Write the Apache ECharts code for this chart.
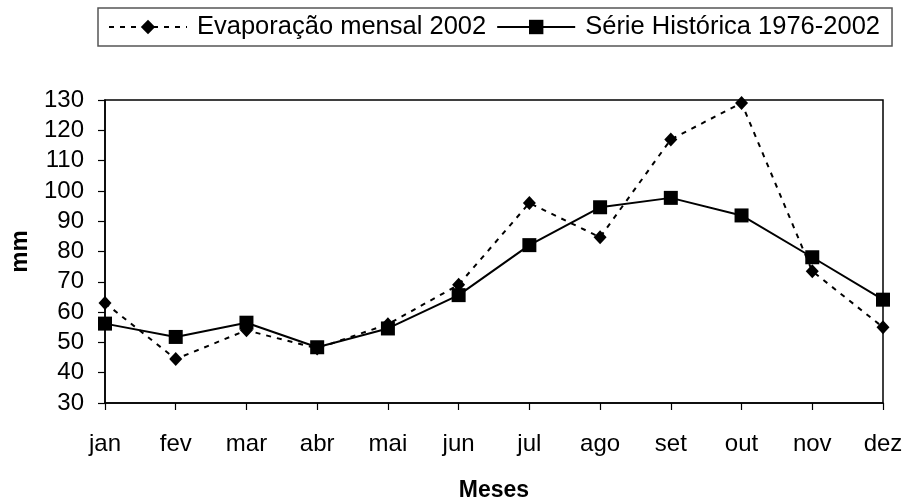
<!DOCTYPE html>
<html><head><meta charset="utf-8">
<script src="https://cdn.jsdelivr.net/npm/echarts@6/dist/echarts.min.js"></script>
<style>html,body{margin:0;padding:0;background:#fff}#c{width:907px;height:498px}</style>
</head><body><div id="c"></div>
<script>
const months = ['jan','fev','mar','abr','mai','jun','jul','ago','set','out','nov','dez'];
const evap2002 = [63, 44.5, 54, 48, 56, 69, 96, 84.7, 117, 129, 73.5, 55];
const serieHist = [56.2, 51.8, 56.5, 48.4, 54.6, 65.6, 82.1, 94.6, 97.7, 91.9, 78.1, 64.1];
const yTicks = [30, 130, 10]; // min, max, step
const evapName = 'Evaporação mensal 2002';
const histName = 'Série Histórica 1976-2002';
const font = 'Liberation Sans, Arial, sans-serif';

const chart = echarts.init(document.getElementById('c'), null, {renderer:'canvas'});
chart.setOption({
  animation:false,
  backgroundColor:'#fff',
  legend:{
    left:98, top:8,
    padding:[6,12,6,10],
    itemWidth:78, itemHeight:18, itemGap:10,
    borderColor:'#555', borderWidth:1.5,
    textStyle:{fontFamily:font, fontSize:25.5, color:'#000', padding:[0,0,0,5]},
    data:[evapName, histName]
  },
  grid:{left:105, right:24, top:100, bottom:95, show:true, borderColor:'#000', borderWidth:1.5,
        containLabel:false, outerBoundsMode:'none'},
  xAxis:{
    type:'category', data:months, boundaryGap:false,
    name:'Meses', nameLocation:'middle', nameGap:76,
    nameTextStyle:{fontFamily:font, fontSize:23, fontWeight:'bold', color:'#000'},
    axisLine:{lineStyle:{color:'#000', width:1.5}},
    axisTick:{show:true, length:7, lineStyle:{color:'#000', width:1.2}},
    axisLabel:{fontFamily:font, fontSize:24, color:'#000', margin:29},
    splitLine:{show:false}
  },
  yAxis:{
    type:'value', min:yTicks[0], max:yTicks[1], interval:yTicks[2],
    name:'mm', nameLocation:'middle', nameGap:73, nameRotate:90,
    nameTextStyle:{fontFamily:font, fontSize:24, fontWeight:'bold', color:'#000'},
    axisLine:{show:true, lineStyle:{color:'#000', width:1.5}},
    axisTick:{show:true, length:7, inside:false, lineStyle:{color:'#000', width:1.2}},
    axisLabel:{fontFamily:font, fontSize:24, color:'#000', margin:21},
    splitLine:{show:false}
  },
  series:[
    {
      name:evapName, type:'line', data:evap2002,
      symbol:'diamond', symbolSize:[13,14],
      itemStyle:{color:'#000'},
      lineStyle:{color:'#000', width:2, type:[5,6]},
      z:2
    },
    {
      name:histName, type:'line', data:serieHist,
      symbol:'rect', symbolSize:14,
      itemStyle:{color:'#000'},
      lineStyle:{color:'#000', width:2},
      z:3
    }
  ]
});
</script></body></html>
